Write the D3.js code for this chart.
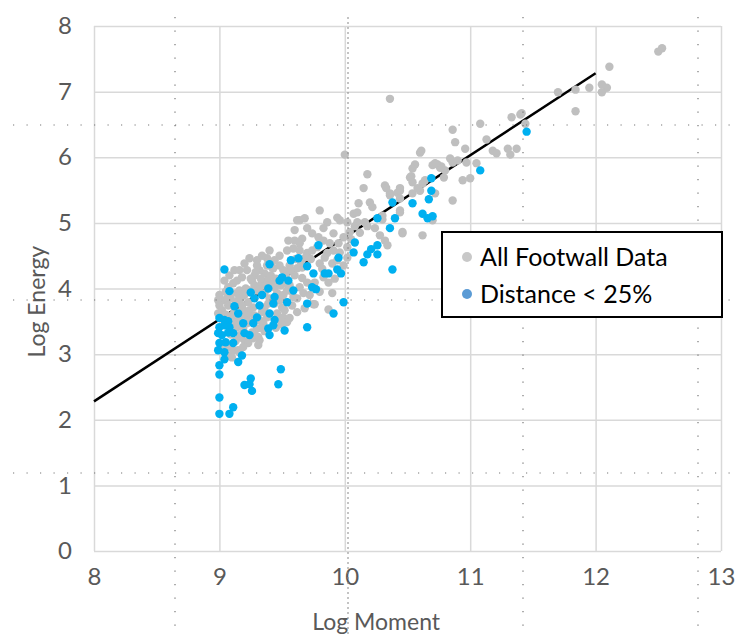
<!DOCTYPE html>
<html>
<head>
<meta charset="utf-8">
<script src="https://cdn.jsdelivr.net/npm/d3@7"></script>
<style>
  body { margin: 0; background: #fff; }
  svg { font-family: Lato, "Noto Sans", sans-serif; }
</style>
</head>
<body>
<svg width="736" height="636"></svg>
<script>
// all footwall data - [log moment, log energy]
var allData = [
  [10.00,6.04],[10.18,5.74],[10.15,5.53],[10.32,5.57],[10.36,5.45],[10.42,5.46],[10.44,5.49],[10.53,5.71],
  [10.56,5.89],[10.60,6.07],[10.70,5.88],[10.76,5.84],[10.80,5.80],[10.60,5.49],[10.62,5.60],[10.72,5.45],
  [10.54,5.45],[10.11,5.30],[10.20,5.31],[10.22,5.24],[10.44,5.19],[10.30,5.11],[10.07,5.14],[10.10,5.16],
  [9.94,5.08],[9.96,5.04],[10.02,5.01],[10.10,5.01],[10.16,5.01],[10.24,4.92],[10.28,4.81],[10.32,4.73],
  [10.34,4.66],[10.46,4.86],[10.62,4.81],[10.04,4.86],[9.99,4.78],[10.02,4.63],[9.95,4.69],[9.91,4.84],
  [9.86,5.01],[9.83,4.92],[9.80,5.19],[9.79,4.78],[9.83,4.73],[9.74,4.84],[9.70,4.92],[9.64,5.04],
  [9.62,5.04],[9.68,5.07],[9.60,4.89],[9.66,4.76],[9.55,4.73],[9.60,4.73],[9.64,4.69],[9.54,4.58],
  [9.59,4.61],[9.64,4.58],[9.70,4.54],[9.74,4.58],[9.78,4.63],[9.88,4.69],[9.91,4.58],[9.86,4.54],
  [9.80,4.38],[9.84,4.47],[9.90,4.38],[9.94,4.43],[10.02,4.47],[9.99,4.35],[9.83,4.17],[9.87,4.09],
  [9.90,3.93],[9.76,4.09],[9.70,4.09],[9.66,4.16],[9.64,4.02],[9.67,3.93],[9.75,3.76],[9.87,3.68],
  [9.59,3.87],[9.54,3.97],[9.53,4.08],[9.51,4.28],[9.48,4.35],[9.44,4.43],[9.42,4.32],[9.38,4.35],
  [9.36,4.23],[9.32,4.28],[9.30,4.35],[9.28,4.20],[9.26,4.12],[9.22,4.28],[9.20,4.38],[9.16,4.28],
  [9.18,4.17],[9.11,4.08],[9.14,4.12],[9.10,3.93],[9.14,3.93],[9.07,3.87],[9.04,3.82],[9.00,3.90],
  [9.00,3.74],[9.02,3.67],[8.99,3.62],[9.15,3.82],[9.18,3.74],[9.19,3.67],[9.22,3.59],[9.23,3.79],
  [9.27,3.71],[9.30,3.97],[9.32,4.02],[9.34,4.09],[9.38,4.12],[9.42,4.08],[9.44,4.02],[9.46,3.93],
  [9.48,3.82],[9.50,3.71],[9.52,3.67],[9.46,3.62],[9.48,3.52],[9.51,3.56],[9.54,3.49],[9.36,3.71],
  [9.39,3.77],[9.34,3.64],[9.38,3.56],[9.32,3.52],[9.35,3.47],[9.30,3.39],[9.26,3.33],[9.22,3.47],
  [9.19,3.39],[9.16,3.56],[9.14,3.52],[9.11,3.47],[9.14,3.41],[9.16,3.29],[9.20,3.21],[9.23,3.17],
  [9.27,3.24],[9.31,3.26],[9.32,3.21],[9.11,3.06],[9.15,3.06],[9.07,2.98],[9.10,2.95],[9.06,3.11],
  [9.03,3.14],[9.16,3.03],[9.19,3.11],[9.76,3.76],[9.66,4.32],[9.62,4.31],[11.40,6.65],[11.33,6.61],
  [11.08,6.51],[10.86,6.42],[10.88,6.23],[10.96,6.13],[10.61,6.10],[11.18,6.10],[11.21,6.06],[11.30,6.13],
  [11.37,6.13],[11.32,6.04],[11.13,6.27],[10.90,5.95],[10.97,5.92],[10.84,5.98],[10.86,5.92],[10.74,5.89],
  [10.77,5.86],[10.72,5.91],[10.54,5.83],[10.52,5.69],[10.54,5.62],[10.64,5.65],[10.79,5.69],[10.94,5.65],
  [11.00,5.68],[11.05,5.91],[10.86,5.34],[10.33,5.53],[10.44,5.53],[10.36,5.42],[10.58,5.53],[10.44,5.37],
  [10.44,5.16],[10.46,4.84],[10.70,5.04],[10.30,5.05],[12.50,7.61],[12.53,7.66],[12.11,7.38],[12.05,7.11],
  [12.09,7.06],[12.05,6.99],[11.95,7.06],[11.84,7.03],[11.70,6.99],[11.84,6.70],[11.41,6.67],[11.44,6.51],
  [10.36,6.89],[9.30,4.43],[9.38,4.46],[9.43,4.31],[9.24,3.97],[9.20,3.90],[9.28,4.05],[9.36,3.93],
  [9.40,3.85],[9.44,3.77],[9.24,3.67],[9.28,3.59],[9.10,3.59],[9.07,3.74],[9.16,3.97],[9.07,4.02],
  [9.04,4.12],[8.99,3.82],[9.08,4.20],[9.12,4.28],[9.24,4.46],[9.34,4.50],[9.40,4.58],[9.48,4.50],
  [9.56,4.35],[9.60,4.20],[9.56,4.05],[9.51,3.90],[9.58,3.74],[9.62,3.64],[9.56,3.55],[9.31,3.14],
  [9.05,3.95],[9.09,3.85],[9.13,3.78],[9.17,3.85],[9.21,4.00],[9.25,4.15],[9.29,4.25],[9.33,4.15],
  [9.37,4.05],[9.41,4.20],[9.45,4.15],[9.49,4.05],[9.53,4.20],[9.57,4.28],[9.61,4.45],[9.65,4.40],
  [9.69,4.48],[9.73,4.45],[9.12,3.65],[9.20,3.60],[9.26,3.50],[9.33,3.40],[9.05,3.60],[9.09,3.30],
  [9.13,3.20],[9.18,3.25],[9.28,3.30],[9.36,3.35],[9.45,3.40],[9.50,3.45],[9.58,3.95],[9.62,3.85],
  [9.68,3.70],[9.72,3.90],[9.80,3.95],[9.82,4.30],[9.92,4.15],[9.96,4.55],[10.05,4.75],[10.12,4.85],
  [10.18,4.95],[10.08,4.95]
];

// distance < 25%
var nearData = [
  [9.04,4.29],[9.08,3.96],[9.12,3.73],[9.15,3.62],[9.00,3.55],[9.04,3.52],[9.07,3.50],[9.00,3.41],
  [9.04,3.44],[9.08,3.41],[8.99,3.32],[9.02,3.29],[9.07,3.33],[9.11,3.32],[9.00,3.17],[9.05,3.18],
  [9.11,3.17],[8.99,3.06],[9.04,3.03],[9.04,2.92],[9.00,2.83],[9.15,2.88],[9.18,2.98],[9.00,2.69],
  [9.49,2.77],[9.25,2.63],[9.20,2.53],[9.24,2.54],[9.26,2.44],[9.47,2.54],[9.00,2.34],[9.11,2.19],
  [9.08,2.09],[9.00,2.09],[9.19,3.47],[9.24,3.29],[9.20,3.32],[9.27,3.47],[9.30,3.56],[9.32,3.74],
  [9.28,3.85],[9.25,3.94],[9.34,3.90],[9.39,4.00],[9.44,3.87],[9.43,3.77],[9.40,3.62],[9.44,3.52],
  [9.39,3.39],[9.40,3.29],[9.43,3.44],[9.52,3.36],[9.54,3.79],[9.50,4.17],[9.55,4.12],[9.48,4.12],
  [9.40,4.37],[9.57,4.43],[9.63,4.46],[9.59,3.97],[9.70,4.34],[9.75,4.23],[9.70,3.77],[9.70,3.41],
  [9.79,4.66],[9.84,4.23],[9.87,4.23],[9.74,4.02],[9.77,3.99],[9.95,4.47],[9.94,4.29],[9.97,4.23],
  [9.91,3.62],[9.99,3.79],[10.08,4.70],[10.07,4.55],[10.15,4.40],[10.18,4.52],[10.21,4.60],[10.26,4.66],
  [10.26,4.52],[10.38,4.29],[10.36,4.92],[10.26,5.07],[10.40,5.07],[10.38,5.31],[10.54,5.30],[10.62,5.14],
  [10.66,5.07],[10.70,5.10],[10.67,5.36],[10.69,5.49],[10.69,5.68],[11.08,5.80],[11.45,6.39]
];

// trend line end points
var trendX = [8, 12];
var trendY = [2.28, 7.28];

var xTicks = [8, 9, 10, 11, 12, 13];
var yTicks = [0, 1, 2, 3, 4, 5, 6, 7, 8];
var seriesNames = ["All Footwall Data", "Distance < 25%"];

var svg = d3.select("svg");
var margin = {left: 94, top: 26};
var width = 627, height = 525;

var x = d3.scaleLinear().domain([8, 13]).range([0, width]);
var y = d3.scaleLinear().domain([0, 8]).range([height, 0]);

var g = svg.append("g")
    .attr("transform", "translate(" + margin.left + "," + margin.top + ")");

// gridlines
g.append("g")
    .attr("class", "grid")
    .attr("transform", "translate(0," + height + ")")
    .call(d3.axisBottom(x).tickValues(xTicks).tickSize(-height).tickFormat(""));
g.append("g")
    .attr("class", "grid")
    .call(d3.axisLeft(y).tickValues(yTicks).tickSize(-width).tickFormat(""));
g.selectAll(".grid .domain").remove();
g.selectAll(".grid line").attr("stroke", "#d9d9d9").attr("stroke-width", 1.5);

// tick labels
var gx = g.append("g")
    .attr("transform", "translate(0," + height + ")")
    .call(d3.axisBottom(x).tickValues(xTicks).tickSize(0).tickPadding(17).tickFormat(d3.format("d")));
var gy = g.append("g")
    .call(d3.axisLeft(y).tickValues(yTicks).tickSize(0).tickPadding(22).tickFormat(d3.format("d")));
gx.select(".domain").remove();
gy.select(".domain").remove();
svg.selectAll(".tick text")
    .attr("font-family", "Lato, sans-serif")
    .attr("font-size", 24)
    .attr("fill", "#595959");

// axis titles
svg.append("text")
    .attr("x", margin.left + x(10.25))
    .attr("y", 630)
    .attr("text-anchor", "middle")
    .attr("font-size", 23)
    .attr("fill", "#595959")
    .text("Log Moment");
svg.append("text")
    .attr("transform", "translate(45," + (margin.top + y(3.8)) + ") rotate(-90)")
    .attr("text-anchor", "middle")
    .attr("font-size", 23)
    .attr("fill", "#595959")
    .text("Log Energy");

// trend line
g.append("line")
    .attr("x1", x(trendX[0])).attr("y1", y(trendY[0]))
    .attr("x2", x(trendX[1])).attr("y2", y(trendY[1]))
    .attr("stroke", "#000")
    .attr("stroke-width", 2.5);

// points
g.selectAll("circle.all")
    .data(allData)
    .enter()
    .append("circle")
    .attr("class", "all")
    .attr("cx", function (d) { return x(d[0]); })
    .attr("cy", function (d) { return y(d[1]); })
    .attr("r", 4.2)
    .attr("fill", "#bfbfbf");

g.selectAll("circle.near")
    .data(nearData)
    .enter()
    .append("circle")
    .attr("class", "near")
    .attr("cx", function (d) { return x(d[0]); })
    .attr("cy", function (d) { return y(d[1]); })
    .attr("r", 4.2)
    .attr("fill", "#00b0f0");

// slide guide lines (dotted overlay)
var guideX = [175, 523, 698];
var guideY = [125, 300, 473];
svg.selectAll("line.gx")
    .data(guideX)
    .enter()
    .append("line")
    .attr("x1", function (d) { return d; }).attr("x2", function (d) { return d; })
    .attr("y1", 17).attr("y2", 636)
    .attr("stroke", "#777")
    .attr("stroke-width", 1.2)
    .attr("stroke-dasharray", "1.2,12.3");
svg.append("line")
    .attr("x1", 348).attr("x2", 348)
    .attr("y1", 17).attr("y2", 636)
    .attr("stroke", "#888")
    .attr("stroke-width", 1)
    .attr("stroke-dasharray", "2,3");
svg.selectAll("line.gy")
    .data(guideY)
    .enter()
    .append("line")
    .attr("x1", 13).attr("x2", 736)
    .attr("y1", function (d) { return d; }).attr("y2", function (d) { return d; })
    .attr("stroke", "#777")
    .attr("stroke-width", 1.2)
    .attr("stroke-dasharray", "1.2,12.3");

// legend
var legend = svg.append("g").attr("transform", "translate(442,232)");
legend.append("rect")
    .attr("width", 280).attr("height", 85)
    .attr("fill", "#fff")
    .attr("stroke", "#000")
    .attr("stroke-width", 2);
var legendColors = ["#c8c8c8", "#5b9bd5"];
seriesNames.forEach(function (name, i) {
    legend.append("circle")
        .attr("cx", 25).attr("cy", 25 + i * 37)
        .attr("r", 5)
        .attr("fill", legendColors[i]);
    legend.append("text")
        .attr("x", 38).attr("y", 34 + i * 37)
        .attr("font-size", 25)
        .attr("fill", "#000")
        .text(name);
});
</script>
</body>
</html>
